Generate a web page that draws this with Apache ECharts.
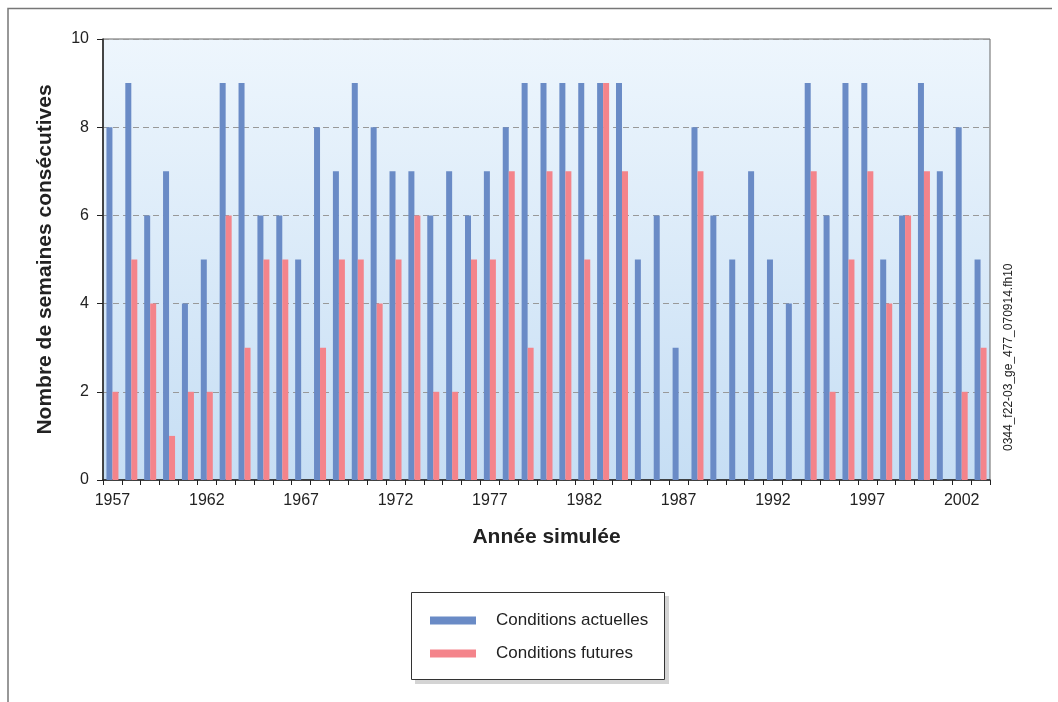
<!DOCTYPE html>
<html lang="fr">
<head>
    <meta charset="UTF-8">
    <title>Semaines consécutives</title>
    <script src="https://cdn.jsdelivr.net/npm/echarts@6.0.0/dist/echarts.min.js"></script>
    <style>
        html, body { margin: 0; padding: 0; background: #fff; }
        #main { width: 1058px; height: 702px; }
    </style>
</head>
<body>
    <div id="main"></div>
    <script type="text/javascript">
        const years = [];
        for (let y = 1957; y <= 2003; y++) years.push(String(y));

        // Conditions actuelles
        const actuelles = [8, 9, 6, 7, 4, 5, 9, 9, 6, 6, 5, 8, 7, 9, 8, 7, 7, 6, 7, 6, 7, 8, 9, 9, 9, 9, 9, 9,
            5, 6, 3, 8, 6, 5, 7, 5, 4, 9, 6, 9, 9, 5, 6, 9, 7, 8, 5];
        // Conditions futures
        const futures = [2, 5, 4, 1, 2, 2, 6, 3, 5, 5, 0, 3, 5, 5, 4, 5, 6, 2, 2, 5, 5, 7, 3, 7, 7, 5, 9, 7,
            0, 0, 0, 7, 0, 0, 0, 0, 0, 7, 2, 5, 7, 4, 6, 7, 0, 2, 3];

        const font = 'Liberation Sans, Arial, sans-serif';

        const option = {
            animation: false,
            textStyle: { fontFamily: font },
            grid: {
                left: 103,
                right: 68,
                top: 39,
                bottom: 222,
                show: true,
                borderColor: '#666',
                borderWidth: 1,
                backgroundColor: new echarts.graphic.LinearGradient(0, 0, 0, 1, [
                    { offset: 0, color: '#eef6fd' },
                    { offset: 1, color: '#c6def4' }
                ])
            },
            xAxis: {
                type: 'category',
                data: years,
                name: 'Année simulée',
                nameLocation: 'middle',
                nameGap: 47,
                nameTextStyle: { fontSize: 21, fontWeight: 'bold', color: '#222' },
                axisLine: { lineStyle: { color: '#222', width: 1.5 } },
                axisTick: { show: true, interval: 0, length: 5, lineStyle: { color: '#222' } },
                axisLabel: { interval: 4, fontSize: 16, color: '#222', margin: 13 }
            },
            yAxis: {
                type: 'value',
                min: 0,
                max: 10,
                interval: 2,
                name: 'Nombre de semaines consécutives',
                nameLocation: 'middle',
                nameGap: 47,
                nameTextStyle: { fontSize: 21, fontWeight: 'bold', color: '#222' },
                axisLine: { show: true, lineStyle: { color: '#222', width: 1.5 } },
                axisTick: { show: true, length: 6, lineStyle: { color: '#222' } },
                axisLabel: { fontSize: 16, color: '#222', margin: 14 },
                splitLine: {
                    show: true,
                    lineStyle: { color: '#999', type: [6, 4], width: 1 }
                }
            },
            legend: {
                show: true,
                orient: 'vertical',
                left: 430,
                top: 612,
                padding: 0,
                itemGap: 16,
                itemWidth: 46,
                itemHeight: 8,
                icon: 'rect',
                textStyle: { fontSize: 17, color: '#222', padding: [0, 0, 0, 15] }
            },
            graphic: [
                {
                    type: 'polyline',
                    shape: { points: [[8, 702], [8, 8.5], [1052, 8.5]] },
                    style: { stroke: '#777', lineWidth: 1.5, fill: null },
                    silent: true
                },
                {
                    type: 'rect',
                    shape: { x: 415, y: 596, width: 254, height: 88 },
                    style: { fill: '#d4d4d4' },
                    silent: true,
                    z: -1
                },
                {
                    type: 'rect',
                    shape: { x: 411.5, y: 592.5, width: 253, height: 87 },
                    style: { fill: '#fff', stroke: '#333', lineWidth: 1 },
                    silent: true,
                    z: -1
                },
                {
                    type: 'text',
                    x: 1003,
                    y: 451,
                    rotation: Math.PI / 2,
                    style: {
                        text: '0344_f22-03_ge_477_070914.fh10',
                        fontSize: 12,
                        fontFamily: font,
                        fill: '#222',
                        textAlign: 'left',
                        textVerticalAlign: 'top'
                    },
                    silent: true
                }
            ],
            series: [
                {
                    name: 'Conditions actuelles',
                    type: 'bar',
                    data: actuelles,
                    barWidth: 6,
                    barGap: '0%',
                    itemStyle: { color: '#6a8bc6' }
                },
                {
                    name: 'Conditions futures',
                    type: 'bar',
                    data: futures,
                    barWidth: 6,
                    barGap: '0%',
                    itemStyle: { color: '#f4848b' }
                }
            ]
        };

        const myChart = echarts.init(document.getElementById('main'));
        myChart.setOption(option);
    </script>
</body>
</html>
